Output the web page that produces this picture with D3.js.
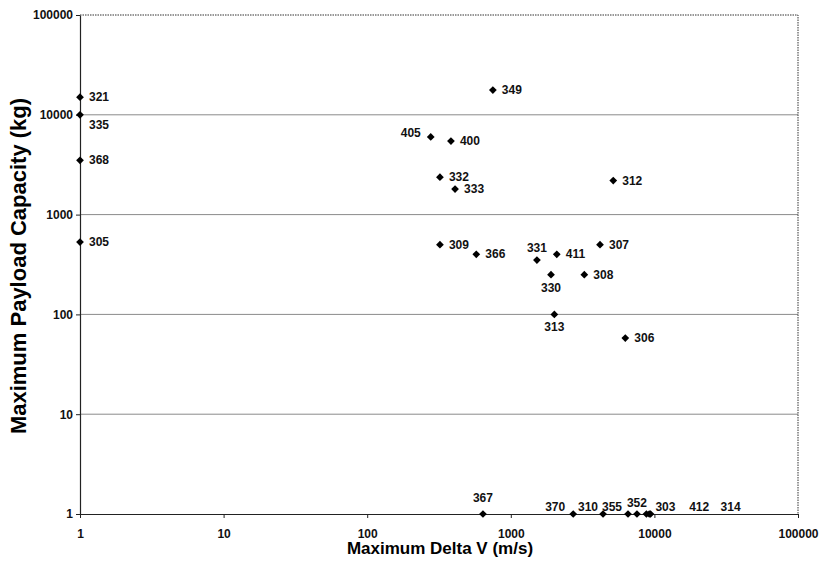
<!DOCTYPE html>
<html>
<head>
<meta charset="utf-8">
<script src="https://cdn.jsdelivr.net/npm/d3@7"></script>
<style>
  body { margin: 0; background: #fff; }
  text { font-family: "Liberation Sans", Arial, sans-serif; }
</style>
</head>
<body>
<div id="chart"></div>
<script>
// data
const ids      = ["321","335","368","305","349","405","400","332","333","312","309","366","331","411","307","330","308","313","306",
                  "367","370","310","355","352","303","412","314"];
const deltaV   = [1, 1, 1, 1, 750, 277, 383, 321, 409, 5170, 321, 575, 1520, 2090, 4180, 1905, 3250, 2010, 6270,
                  640, 2720, 4390, 6550, 7560, 8800, 9200, 9400];
const payload  = [15000, 10000, 3500, 530, 17700, 6000, 5460, 2370, 1800, 2190, 500, 400, 350, 400, 500, 250, 250, 100, 58,
                  1, 1, 1, 1, 1, 1, 1, 1];
const tickVals = [1, 10, 100, 1000, 10000, 100000];
const gridVals = [10, 100, 1000, 10000];

// where each label sits relative to its marker (dx, dy, anchor)
const labelPos = {
  "335": [9, 14, "start"], "405": [-10, 0, "end"], "331": [0, -8, "middle"],
  "330": [0, 17, "middle"], "313": [0, 17, "middle"], "367": [0, -12, "middle"],
  "370": [-8, -3, "end"], "310": [-5, -3, "end"], "355": [-6, -3, "end"],
  "352": [0, -7, "middle"], "303": [9, -3, "start"], "412": [40, -3, "start"],
  "314": [70, -3, "start"]
};

const W = 823, H = 571;
const svg = d3.select("#chart").append("svg")
  .attr("width", W).attr("height", H);

const x = d3.scaleLog().domain([1, 100000]).range([80, 798]);
const y = d3.scaleLog().domain([1, 100000]).range([514, 15]);

// gridlines
svg.selectAll(".grid")
  .data(gridVals)
  .enter().append("line")
  .attr("x1", x(1)).attr("x2", x(100000))
  .attr("y1", d => y(d)).attr("y2", d => y(d))
  .attr("stroke", "#8a8a8a").attr("stroke-width", 1);

// top and right border, dotted
svg.append("path")
  .attr("d", `M${x(1)},${y(100000)}H${x(100000)}V${y(1)}`)
  .attr("fill", "none").attr("stroke", "#333")
  .attr("stroke-width", 1).attr("stroke-dasharray", "1.5,1");

// axes
const xAxis = d3.axisBottom(x).tickValues(tickVals).tickFormat(d3.format("d"))
  .tickSizeInner(4).tickSizeOuter(0).tickPadding(11);
const yAxis = d3.axisLeft(y).tickValues(tickVals).tickFormat(d3.format("d"))
  .tickSizeInner(4).tickSizeOuter(0).tickPadding(3);

const gx = svg.append("g").attr("transform", `translate(0,${y(1)})`).call(xAxis);
const gy = svg.append("g").attr("transform", `translate(${x(1)},0)`).call(yAxis);

[gx, gy].forEach(g => {
  g.select(".domain").attr("stroke", "#222").attr("stroke-width", 1.2);
  g.selectAll(".tick line").attr("stroke", "#222");
  g.selectAll(".tick text")
    .attr("fill", "#111")
    .style("font-size", "12px")
    .style("font-weight", "bold");
});

// axis titles
svg.append("text")
  .attr("x", 440).attr("y", 554)
  .attr("text-anchor", "middle")
  .style("font-size", "17px").style("font-weight", "bold")
  .text("Maximum Delta V (m/s)");

svg.append("text")
  .attr("transform", "translate(26,266) rotate(-90)")
  .attr("text-anchor", "middle")
  .style("font-size", "22px").style("font-weight", "bold")
  .text("Maximum Payload Capacity (kg)");

// points
const pts = ids.map((id, i) => ({ id: id, v: deltaV[i], p: payload[i] }));
const diamond = d3.symbol().type(d3.symbolSquare).size(30);

svg.selectAll(".pt")
  .data(pts)
  .enter().append("path")
  .attr("class", "pt")
  .attr("d", diamond)
  .attr("transform", d => `translate(${x(d.v)},${y(d.p)}) rotate(45)`)
  .attr("fill", "#000");

svg.selectAll(".lbl")
  .data(pts)
  .enter().append("text")
  .attr("class", "lbl")
  .attr("x", d => x(d.v) + (labelPos[d.id] ? labelPos[d.id][0] : 9))
  .attr("y", d => y(d.p) + (labelPos[d.id] ? labelPos[d.id][1] : 4))
  .attr("text-anchor", d => labelPos[d.id] ? labelPos[d.id][2] : "start")
  .style("font-size", "12px").style("font-weight", "bold")
  .attr("fill", "#111")
  .text(d => d.id);
</script>
</body>
</html>
